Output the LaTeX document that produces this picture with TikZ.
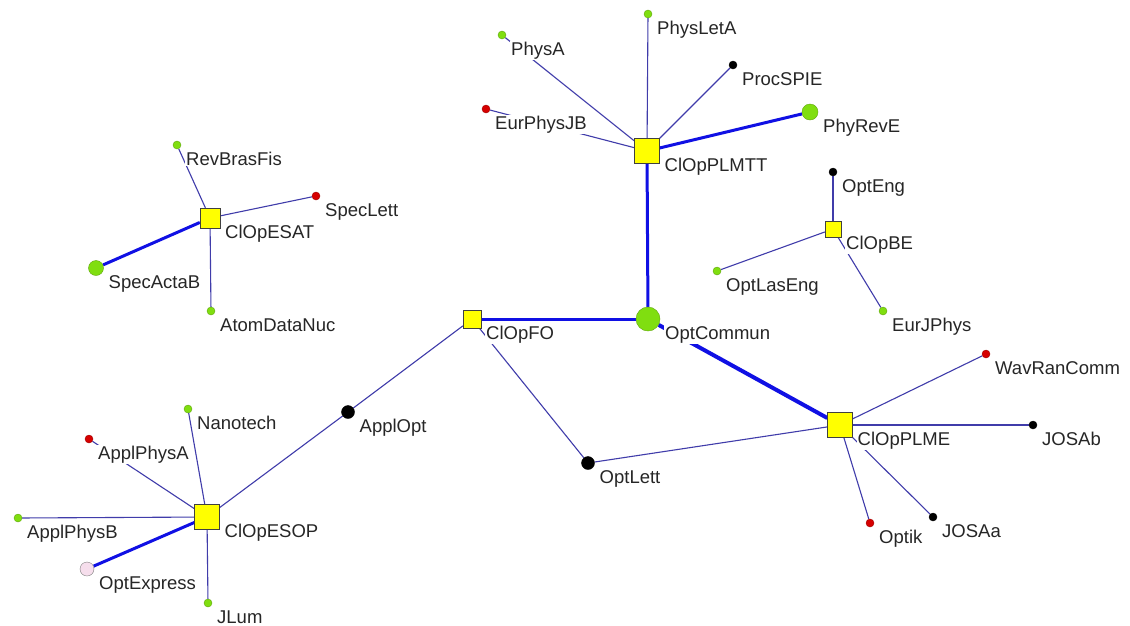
\documentclass[tikz,border=0pt]{standalone}
\usepackage{fontspec}
\setmainfont{Liberation Sans}
\usetikzlibrary{calc,backgrounds}

\definecolor{jgreen}{RGB}{128,222,16}
\definecolor{jred}{RGB}{214,0,0}
\definecolor{jpink}{RGB}{246,222,236}
\definecolor{jyellow}{RGB}{255,255,0}
\definecolor{thinlink}{RGB}{64,60,170}
\definecolor{thicklink}{RGB}{16,16,228}

\tikzset{
  cluster/.style={rectangle, draw=black!75, fill=jyellow, inner sep=0pt, minimum size=#1},
  journal/.style={circle, draw=#1!75!black, fill=#1, inner sep=0pt, minimum size=8pt},
  tie/.style={draw=thinlink, line width=1.1pt},
  strongtie/.style={draw=thicklink, line width=#1},
  lbl/.style={fill=white, inner sep=0.8pt, anchor=base west, text=black!85,
    font=\fontsize{18.5}{20}\selectfont}
}
\newcommand{\jname}[2]{\node[lbl] (#1-lbl) at ($(#1.east)+(4,20)$) {#2};}

\begin{document}
\begin{tikzpicture}[x=1pt,y=-1pt]
    \useasboundingbox (0,0) rectangle (1130,625);

    \node[cluster=25pt] (ESOP) at (207,517) {}; \node[cluster=20pt] (ESAT) at (210,218) {};
    \node[cluster=18pt] (FO) at (472,319) {}; \node[cluster=25pt] (PLMTT) at (647,151) {};
    \node[cluster=16pt] (BE) at (833,229) {}; \node[cluster=25pt] (PLME) at (840,425) {};

    \node[journal=jgreen, minimum size=24pt] (OptCommun) at (648,319) {};
    \node[journal=black, minimum size=13pt] (ApplOpt) at (348,412) {};
    \node[journal=black, minimum size=13pt] (OptLett) at (588,463) {};

    \node[journal=jgreen] (Nanotech) at (188,409) {}; \node[journal=jred] (ApplPhysA) at (89,439) {};
    \node[journal=jgreen] (ApplPhysB) at (18,518) {};
    \node[journal=jpink, draw=black!50, minimum size=14pt] (OptExpress) at (87,569) {};
    \node[journal=jgreen] (JLum) at (208,603) {};

    \node[journal=jgreen] (RevBrasFis) at (177,145) {}; \node[journal=jred] (SpecLett) at (316,196) {};
    \node[journal=jgreen, minimum size=15pt] (SpecActaB) at (96,268) {};
    \node[journal=jgreen] (AtomDataNuc) at (211,311) {};

    \node[journal=jgreen] (PhysA) at (502,35) {}; \node[journal=jgreen] (PhysLetA) at (648,14) {};
    \node[journal=black] (ProcSPIE) at (733,65) {}; \node[journal=jred] (EurPhysJB) at (486,109) {};
    \node[journal=jgreen, minimum size=16pt] (PhyRevE) at (810,112) {};

    \node[journal=black] (OptEng) at (833,172) {}; \node[journal=jgreen] (OptLasEng) at (717,271) {};
    \node[journal=jgreen] (EurJPhys) at (883,311) {};

    \node[journal=jred] (WavRanComm) at (986,354) {}; \node[journal=black] (JOSAb) at (1033,425) {};
    \node[journal=jred] (Optik) at (870,523) {}; \node[journal=black] (JOSAa) at (933,517) {};

    \begin{pgfonlayer}{background}
    \fill[white] (0,0) rectangle (1130,625);
    \draw[tie] (ESOP) -- (Nanotech); \draw[tie] (ESOP) -- (ApplPhysA);
    \draw[tie] (ESOP) -- (ApplPhysB); \draw[tie] (ESOP) -- (JLum);
    \draw[strongtie=3pt] (ESOP) -- (OptExpress);
    \draw[tie] (ESOP) -- (ApplOpt); \draw[tie] (ApplOpt) -- (FO);

    \draw[tie] (ESAT) -- (RevBrasFis); \draw[tie] (ESAT) -- (SpecLett);
    \draw[tie] (ESAT) -- (AtomDataNuc); \draw[strongtie=3pt] (ESAT) -- (SpecActaB);

    \draw[strongtie=3pt] (FO) -- (OptCommun); \draw[tie] (FO) -- (OptLett);
    \draw[tie] (OptLett) -- (PLME);
    \draw[strongtie=3pt] (OptCommun) -- (PLMTT); \draw[strongtie=4pt] (OptCommun) -- (PLME);

    \draw[tie] (PLMTT) -- (PhysA); \draw[tie] (PLMTT) -- (PhysLetA);
    \draw[tie] (PLMTT) -- (ProcSPIE); \draw[tie] (PLMTT) -- (EurPhysJB);
    \draw[strongtie=3pt] (PLMTT) -- (PhyRevE);

    \draw[tie] (BE) -- (OptEng); \draw[tie] (BE) -- (OptLasEng); \draw[tie] (BE) -- (EurJPhys);

    \draw[tie] (PLME) -- (WavRanComm); \draw[tie] (PLME) -- (JOSAb);
    \draw[tie] (PLME) -- (Optik); \draw[tie] (PLME) -- (JOSAa);
    \end{pgfonlayer}

    \jname{ESOP}{ClOpESOP} \jname{ESAT}{ClOpESAT} \jname{FO}{ClOpFO}
    \jname{PLMTT}{ClOpPLMTT} \jname{BE}{ClOpBE} \jname{PLME}{ClOpPLME}
    \jname{OptCommun}{OptCommun} \jname{ApplOpt}{ApplOpt} \jname{OptLett}{OptLett}
    \jname{Nanotech}{Nanotech} \jname{ApplPhysA}{ApplPhysA} \jname{ApplPhysB}{ApplPhysB}
    \jname{OptExpress}{OptExpress} \jname{JLum}{JLum}
    \jname{RevBrasFis}{RevBrasFis} \jname{SpecLett}{SpecLett} \jname{SpecActaB}{SpecActaB}
    \jname{AtomDataNuc}{AtomDataNuc}
    \jname{PhysA}{PhysA} \jname{PhysLetA}{PhysLetA} \jname{ProcSPIE}{ProcSPIE}
    \jname{EurPhysJB}{EurPhysJB} \jname{PhyRevE}{PhyRevE}
    \jname{OptEng}{OptEng} \jname{OptLasEng}{OptLasEng} \jname{EurJPhys}{EurJPhys}
    \jname{WavRanComm}{WavRanComm} \jname{JOSAb}{JOSAb} \jname{Optik}{Optik} \jname{JOSAa}{JOSAa}
  \end{tikzpicture}
\end{document}
